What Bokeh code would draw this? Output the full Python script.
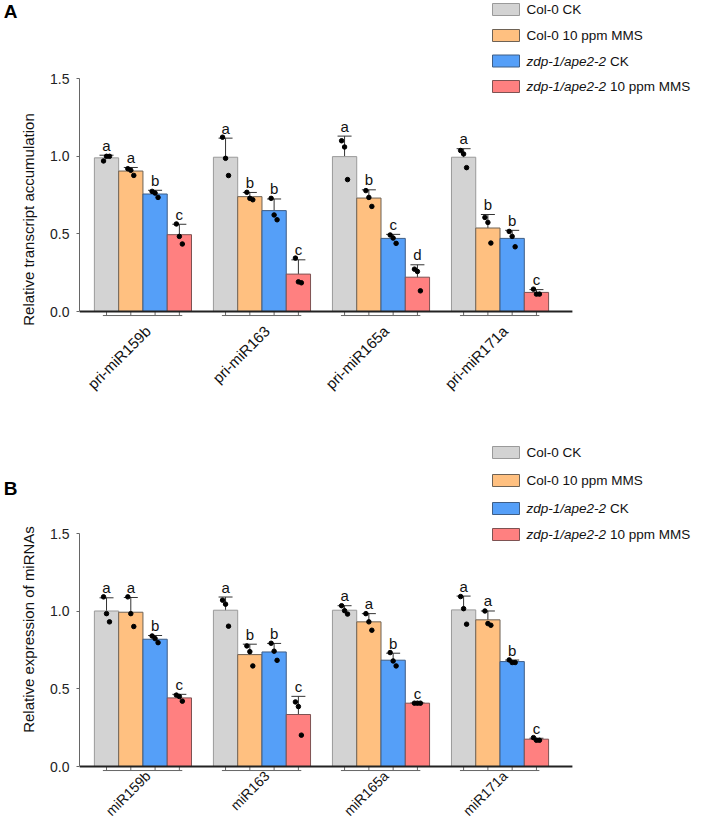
import math
from bokeh.plotting import figure
from bokeh.layouts import column
from bokeh.models import (ColumnDataSource, Range1d, FixedTicker, NumeralTickFormatter,
                          Whisker, TeeHead, LabelSet, Label, BoxAnnotation, LinearAxis)
from bokeh.core.properties import value
from bokeh.embed import file_html
from bokeh.resources import INLINE

# ---------------- data ----------------
conditions = ["Col-0 CK", "Col-0 10 ppm MMS", "zdp-1/ape2-2 CK", "zdp-1/ape2-2 10 ppm MMS"]
legend_italic = ["", "", "zdp-1/ape2-2", "zdp-1/ape2-2"]
legend_plain = ["Col-0 CK", "Col-0 10 ppm MMS", "CK", "10 ppm MMS"]
colors = ["#D3D3D3", "#FFC080", "#559FF8", "#FF8080"]
outlines = ["#9A9A9A", "#6E6255", "#3F5E86", "#7E5252"]

genes_a = ["pri-miR159b", "pri-miR163", "pri-miR165a", "pri-miR171a"]
means_a = [[0.990, 0.905, 0.757, 0.495],
           [0.994, 0.740, 0.650, 0.241],
           [0.998, 0.731, 0.471, 0.221],
           [0.994, 0.538, 0.471, 0.123]]
sd_a = [[0.017, 0.023, 0.024, 0.067],
        [0.123, 0.027, 0.075, 0.092],
        [0.132, 0.053, 0.026, 0.080],
        [0.055, 0.087, 0.052, 0.018]]
points_a = [[[0.970, 1.000, 1.000], [0.920, 0.910, 0.877], [0.774, 0.763, 0.735], [0.564, 0.484, 0.435]],
            [[1.123, 0.987, 0.876], [0.768, 0.729, 0.720], [0.729, 0.622, 0.591], [0.344, 0.191, 0.185]],
            [[1.100, 1.060, 0.850], [0.779, 0.735, 0.677], [0.493, 0.473, 0.439], [0.273, 0.258, 0.133]],
            [[1.037, 1.015, 0.927], [0.606, 0.574, 0.441], [0.516, 0.484, 0.417], [0.144, 0.112, 0.112]]]
letters_a = [["a", "a", "b", "c"], ["a", "b", "b", "c"], ["a", "b", "c", "d"], ["a", "b", "b", "c"]]

genes_b = ["miR159b", "miR163", "miR165a", "miR171a"]
means_b = [[1.002, 0.994, 0.820, 0.442],
           [1.007, 0.721, 0.738, 0.335],
           [1.007, 0.932, 0.685, 0.408],
           [1.009, 0.945, 0.676, 0.176]]
sd_b = [[0.085, 0.095, 0.024, 0.023],
        [0.085, 0.067, 0.055, 0.117],
        [0.029, 0.053, 0.045, 0.000],
        [0.089, 0.057, 0.010, 0.006]]
points_b = [[[1.093, 0.985, 0.932], [1.093, 0.985, 0.902], [0.841, 0.824, 0.798], [0.460, 0.451, 0.421]],
            [[1.072, 1.046, 0.904], [0.777, 0.740, 0.648], [0.794, 0.743, 0.684], [0.416, 0.386, 0.202]],
            [[1.036, 1.004, 0.982], [0.985, 0.932, 0.878], [0.734, 0.680, 0.648], [0.408, 0.408, 0.408]],
            [[1.095, 1.017, 0.917], [1.002, 0.921, 0.910], [0.687, 0.670, 0.670], [0.186, 0.169, 0.169]]]
letters_b = [["a", "a", "b", "c"], ["a", "b", "b", "c"], ["a", "a", "b", "c"], ["a", "a", "b", "c"]]

y_ticks = [0.0, 0.5, 1.0, 1.5]

# ---------------- layout constants (pixels) ----------------
FONT = "Liberation Sans"
W = 692
FL = 74            # frame left
PX_X = 120.0       # px per category unit
PX_Y = 155.2       # px per y unit
X0 = -0.533        # x range start
AX_END = 3.608     # where the x axis line ends
BAR_W = 0.204
JIT = [-0.025, 0.0, 0.025]
LEG_SQ_X = 487     # legend swatch left (figure px)
LEG_TX_X = 521     # legend text left (figure px)
LEG_FONT = "13.5px"
ITALIC_W = 83.5    # width of italic genotype + space at 13.5px


def make_panel(genes, means, sds, points, letters, ytitle, tag, height, y0_px, leg_rows,
               tag_px, cat_font, cat_dy):
    x_end = X0 + (W - FL) / PX_X
    y_start = -(height - y0_px) / PX_Y
    y_end = y0_px / PX_Y
    p = figure(width=W, height=height, output_backend="svg", toolbar_location=None,
               x_range=Range1d(X0, x_end), y_range=Range1d(y_start, y_end),
               min_border_left=FL, min_border_right=0, min_border_top=0, min_border_bottom=0)
    p.outline_line_color = None
    p.grid.visible = False
    p.xaxis.visible = False

    def sx(fx):
        return fx - FL

    def sy(fy):
        return height - fy

    bx, btop, bfill, bline = [], [], [], []
    ex, eup, elo, lx, ly, lt = [], [], [], [], [], []
    px, py = [], []
    sx0, sx1, sy0, sy1 = [], [], [], []
    for g in range(len(genes)):
        centers = []
        for k in range(len(conditions)):
            x = g + (k - 1.5) * BAR_W
            centers.append(x)
            bx.append(x)
            btop.append(means[g][k])
            bfill.append(colors[k])
            bline.append(outlines[k])
            ex.append(x)
            eup.append(means[g][k] + sds[g][k])
            elo.append(means[g][k] - sds[g][k])
            lx.append(x)
            ly.append(means[g][k] + sds[g][k])
            lt.append(letters[g][k])
            for i, v in enumerate(points[g][k]):
                px.append(x + JIT[i])
                py.append(v)
            sx0.append(x); sx1.append(x); sy0.append(-0.026); sy1.append(0.0)
        sx0.append(centers[0] - 0.15 * BAR_W); sx1.append(centers[-1] + 0.12 * BAR_W)
        sy0.append(-0.026); sy1.append(-0.026)

    p.vbar(x=bx, top=btop, bottom=0, width=BAR_W, fill_color=bfill, line_color=bline, line_width=1)
    p.segment(x0=sx0, x1=sx1, y0=sy0, y1=sy1, line_color="#666666", line_width=1)
    # x axis line
    p.segment(x0=[X0], x1=[AX_END], y0=[0.0], y1=[0.0], line_color="#222222", line_width=1.8)

    esrc = ColumnDataSource(dict(x=ex, upper=eup, lower=elo))
    p.add_layout(Whisker(base="x", upper="upper", lower="lower", source=esrc,
                         line_color="#333333", line_width=1,
                         upper_head=TeeHead(size=14, line_color="#333333", line_width=1),
                         lower_head=TeeHead(size=14, line_color="#333333", line_width=1)))
    p.scatter(x=px, y=py, size=4.5, fill_color="black", line_color="black")
    p.text(x=lx, y=ly, text=lt, text_align="center", text_baseline="alphabetic",
           y_offset=-10, text_font_size="15px", text_color="#111111",
           text_font=value(FONT))

    # category labels
    csrc = ColumnDataSource(dict(x=list(range(len(genes))), y=[0.0] * len(genes), t=genes))
    p.add_layout(LabelSet(x="x", y="y", text="t", source=csrc, angle=math.pi / 4,
                          x_offset=5, y_offset=-cat_dy, text_align="right", text_baseline="middle",
                          text_font_size=value(cat_font), text_font=value(FONT),
                          text_color="#111111"))

    # y axis
    ya = p.yaxis[0]
    ya.bounds = (0, 1.5)
    ya.ticker = FixedTicker(ticks=y_ticks)
    ya.formatter = NumeralTickFormatter(format="0.0")
    ya.minor_tick_line_color = None
    ya.major_tick_in = 0
    ya.major_tick_out = 3
    ya.major_tick_line_color = "#666666"
    ya.axis_line_color = "#666666"
    ya.major_label_standoff = 7
    ya.major_label_text_font = FONT
    ya.major_label_text_font_size = "14px"
    ya.major_label_text_color = "#222222"
    ya.axis_label = ytitle
    ya.axis_label_text_font = FONT
    ya.axis_label_text_font_size = "15px"
    ya.axis_label_text_font_style = "normal"
    ya.axis_label_text_color = "#111111"
    ya.axis_label_standoff = 10

    # panel tag as an outer left axis with a single labelled tick
    tag_y = round((y0_px - tag_px) / PX_Y, 4)
    tag_axis = LinearAxis(ticker=FixedTicker(ticks=[tag_y]), major_label_overrides={tag_y: tag},
                          axis_line_color=None, major_tick_line_color=None,
                          minor_tick_line_color=None, major_tick_in=0, major_tick_out=0,
                          major_label_standoff=0, major_label_text_font=FONT,
                          major_label_text_font_size="19px", major_label_text_font_style="bold",
                          major_label_text_color="black")
    p.add_layout(tag_axis, "left")

    # legend
    for k, c in enumerate(leg_rows):
        p.add_layout(BoxAnnotation(left=sx(LEG_SQ_X), right=sx(LEG_SQ_X + 27),
                                   top=sy(c - 6), bottom=sy(c + 6),
                                   left_units="screen", right_units="screen",
                                   top_units="screen", bottom_units="screen",
                                   fill_color=colors[k], fill_alpha=1.0,
                                   line_color=outlines[k], line_width=1, line_alpha=1.0))
        tx = LEG_TX_X
        if legend_italic[k]:
            p.add_layout(Label(x=sx(tx), y=sy(c), x_units="screen", y_units="screen",
                               text=legend_italic[k], text_baseline="middle", text_font=FONT,
                               text_font_size=LEG_FONT, text_font_style="italic",
                               text_color="#111111"))
            tx += ITALIC_W
        p.add_layout(Label(x=sx(tx), y=sy(c), x_units="screen", y_units="screen",
                           text=legend_plain[k], text_baseline="middle", text_font=FONT,
                           text_font_size=LEG_FONT, text_color="#111111"))
    return p


pa = make_panel(genes_a, means_a, sd_a, points_a, letters_a, "Relative transcript accumulation",
                "A", 438, 311, [9, 35, 60.5, 86], 11, "15px", 17)
pb = make_panel(genes_b, means_b, sd_b, points_b, letters_b, "Relative expression of miRNAs",
                "B", 382, 328, [14, 42, 70, 96], 50, "14px", 7)

layout = column(pa, pb, spacing=0)
open("out.html", "w").write(file_html(layout, INLINE))
